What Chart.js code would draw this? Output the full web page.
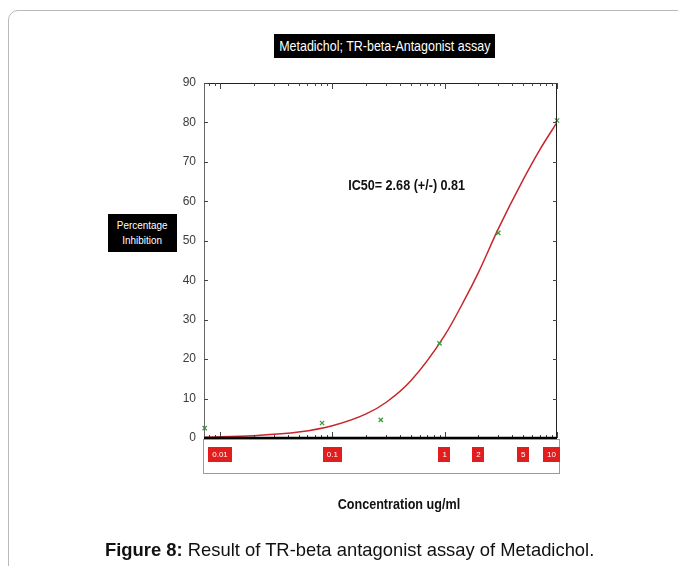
<!DOCTYPE html>
<html>
<head>
<meta charset="utf-8">
<title>TR-beta antagonist assay</title>
<script src="https://cdn.jsdelivr.net/npm/chart.js@4.4.1/dist/chart.umd.min.js"></script>
<style>
  html, body { margin: 0; padding: 0; background: #fff; }
  body { width: 678px; height: 566px; position: relative; overflow: hidden;
         font-family: "Liberation Sans", Arial, sans-serif; }
  #card { position: absolute; left: 8px; top: 10px; width: 720px; height: 620px;
          border: 1px solid #b9b9b9; border-radius: 10px; }
  #plot { position: absolute; left: 0; top: 0; }
  .narrow { display: inline-block; transform-origin: center; white-space: nowrap; }
  .tag { position: absolute; background: #000; color: #fff; text-align: center;
         display: flex; flex-direction: column; justify-content: center; align-items: center; }
  #title { left: 274px; top: 34px; width: 221px; height: 24px; font-size: 14.5px; }
  #title .narrow { transform: scaleX(0.86); }
  #ylab { left: 108px; top: 214px; width: 69px; height: 38px; font-size: 11px; line-height: 15px; }
  #ylab .narrow { transform: scaleX(0.9); }
  #ic50 { position: absolute; left: 300px; width: 214px; top: 176px; text-align: center;
          font-size: 15px; font-weight: bold; color: #111; }
  #ic50 .narrow { transform: scaleX(0.84); }
  #xlab { position: absolute; left: 299px; width: 200px; top: 495px; text-align: center;
          font-size: 15px; font-weight: bold; color: #111; }
  #xlab .narrow { transform: scaleX(0.84); }
  #caption { position: absolute; left: 105px; top: 539px; font-size: 18.4px; color: #111; white-space: nowrap; }
</style>
</head>
<body>
<div id="card"></div>
<canvas id="plot" width="678" height="566"></canvas>
<div class="tag" id="title"><span class="narrow">Metadichol; TR-beta-Antagonist assay</span></div>
<div class="tag" id="ylab"><span class="narrow">Percentage<br>Inhibition</span></div>
<div id="ic50"><span class="narrow">IC50= 2.68 (+/-) 0.81</span></div>
<div id="xlab"><span class="narrow">Concentration ug/ml</span></div>
<div id="caption"><b>Figure 8:</b> Result of TR-beta antagonist assay of Metadichol.</div>
<script>
// measured inhibition at each concentration (ug/ml)
const concentrations = [0.0073, 0.081, 0.27, 0.9, 3, 10];
const inhibition = [2.5, 3.8, 4.6, 24, 52, 80.5];

// fitted dose-response curve, sampled along the concentration range
const fitConc = [0.0073, 0.02, 0.05, 0.1, 0.2, 0.3, 0.5, 1, 1.5, 2, 3, 5, 7, 10];
const fitInhib = [0.2, 0.6, 1.5, 3.1, 6.1, 9, 14.5, 26, 35, 42, 53, 65.5, 73, 80];

const yTicks = [0, 10, 20, 30, 40, 50, 60, 70, 80, 90];
const xTickValues = [0.01, 0.1, 1, 2, 5, 10];
const xTickLabels = ['0.01', '0.1', '1', '2', '5', '10'];

const toPoints = (xs, ys) => xs.map((v, i) => ({ x: v, y: ys[i] }));

// frame, inward tick marks and the red concentration tags under the axis
const axisDecor = {
  id: 'axisDecor',
  afterDraw(chart) {
    const { ctx, chartArea: a, scales: { x, y } } = chart;
    const line = (x1, y1, x2, y2) => { ctx.beginPath(); ctx.moveTo(x1, y1); ctx.lineTo(x2, y2); ctx.stroke(); };
    ctx.save();

    ctx.lineWidth = 1;
    ctx.strokeStyle = '#222';
    line(a.left, a.top + 0.5, a.right, a.top + 0.5);
    line(a.right - 0.5, a.top, a.right - 0.5, a.bottom);
    ctx.strokeStyle = '#666';
    line(a.left + 0.5, a.top, a.left + 0.5, a.bottom);

    ctx.strokeStyle = '#444';
    yTicks.forEach(v => {
      const py = Math.round(y.getPixelForValue(v)) + 0.5;
      line(a.left, py, a.left + 4, py);
      line(a.right - 4, py, a.right, py);
    });

    // log minor ticks on top and bottom edges
    for (let d = -3; d <= 1; d++) {
      for (let m = 1; m <= 9; m++) {
        const v = m * Math.pow(10, d);
        if (v < x.min || v > x.max) continue;
        const px = Math.round(x.getPixelForValue(v)) + 0.5;
        const len = m === 1 ? 6 : 3;
        line(px, a.top, px, a.top + len);
        line(px, a.bottom, px, a.bottom - len);
      }
    }

    ctx.strokeStyle = '#000';
    ctx.lineWidth = 2.5;
    line(a.left, a.bottom, a.right, a.bottom);

    // box holding the concentration tags
    ctx.strokeStyle = '#9a9a9a';
    ctx.lineWidth = 1;
    ctx.strokeRect(a.left - 0.5, a.bottom + 1.5, a.right - a.left + 3, 34);

    ctx.font = '8px "Liberation Sans", Arial, sans-serif';
    ctx.textAlign = 'center';
    ctx.textBaseline = 'middle';
    xTickValues.forEach((v, i) => {
      const txt = xTickLabels[i];
      const w = Math.max(9, ctx.measureText(txt).width + 8);
      let cx = x.getPixelForValue(v);
      if (cx + w / 2 > a.right + 3) cx = a.right + 3 - w / 2;
      ctx.fillStyle = '#e11d1d';
      ctx.fillRect(Math.round(cx - w / 2), a.bottom + 9, Math.round(w), 15);
      ctx.fillStyle = '#fff';
      ctx.fillText(txt, cx, a.bottom + 16.5);
    });
    ctx.restore();
  }
};

new Chart(document.getElementById('plot'), {
  type: 'scatter',
  data: {
    datasets: [
      {
        label: 'measured',
        data: toPoints(concentrations, inhibition),
        pointStyle: 'crossRot',
        pointRadius: 3,
        pointBorderWidth: 1.3,
        borderColor: '#3a9a3a',
        backgroundColor: '#3a9a3a',
        clip: false,
        order: 0
      },
      {
        label: 'fit',
        type: 'line',
        data: toPoints(fitConc, fitInhib),
        borderColor: '#c8262c',
        borderWidth: 1.5,
        pointRadius: 0,
        cubicInterpolationMode: 'monotone',
        fill: false,
        order: 1
      }
    ]
  },
  options: {
    responsive: false,
    animation: false,
    layout: { padding: { left: 0, top: 83, right: 121, bottom: 0 } },
    plugins: {
      legend: { display: false },
      tooltip: { enabled: false },
      title: { display: false }
    },
    scales: {
      x: {
        type: 'logarithmic',
        min: 0.0072,
        max: 10,
        grid: { display: false, drawTicks: false },
        border: { display: false },
        ticks: { display: false },
        afterFit(scale) { scale.height = 128; }
      },
      y: {
        min: 0,
        max: 90,
        grid: { display: false, drawTicks: false },
        border: { display: false },
        ticks: {
          stepSize: 10,
          padding: 8,
          color: '#3c3c3c',
          font: { family: '"Liberation Sans", Arial, sans-serif', size: 12 }
        },
        afterFit(scale) { scale.width = 204; }
      }
    }
  },
  plugins: [axisDecor]
});
</script>
</body>
</html>
